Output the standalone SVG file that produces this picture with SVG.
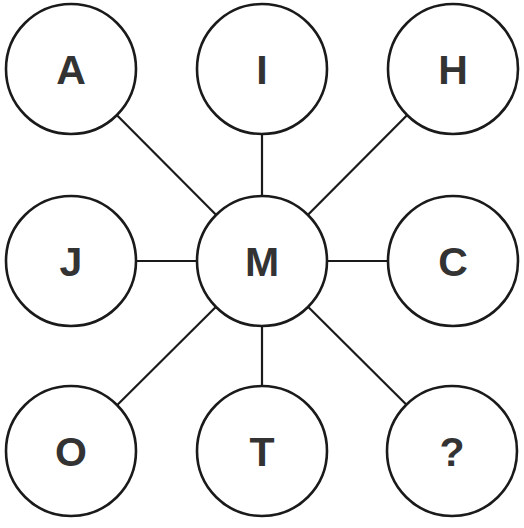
<svg xmlns="http://www.w3.org/2000/svg" width="524" height="528" viewBox="0 0 524 528">
<style>
.n circle{fill:#fff;stroke:#1a1a1a;stroke-width:2.6}
.n text{font-family:"Liberation Sans",Arial,sans-serif;font-weight:bold;font-size:41px;fill:#333;text-anchor:middle}
#edges line{stroke:#1a1a1a;stroke-width:2.2}
</style>
<rect width="524" height="528" fill="#fff"/>
<g id="edges">
<line x1="262" y1="261" x2="71" y2="69"/>
<line x1="262" y1="261" x2="262" y2="69"/>
<line x1="262" y1="261" x2="453" y2="69"/>
<line x1="262" y1="261" x2="71" y2="261"/>
<line x1="262" y1="261" x2="453" y2="261"/>
<line x1="262" y1="261" x2="71" y2="451"/>
<line x1="262" y1="261" x2="262" y2="451"/>
<line x1="262" y1="261" x2="453" y2="451"/>
</g>
<g id="nA" class="n"><circle cx="71" cy="69" r="65"/><text x="71" y="84">A</text></g>
<g id="nI" class="n"><circle cx="262" cy="69" r="65"/><text x="262" y="84">I</text></g>
<g id="nH" class="n"><circle cx="453" cy="69" r="65"/><text x="453" y="84">H</text></g>
<g id="nJ" class="n"><circle cx="71" cy="261" r="65"/><text x="71" y="276">J</text></g>
<g id="nM" class="n"><circle cx="262" cy="261" r="65"/><text x="262" y="276">M</text></g>
<g id="nC" class="n"><circle cx="453" cy="261" r="65"/><text x="453" y="276">C</text></g>
<g id="nO" class="n"><circle cx="71" cy="451" r="65"/><text x="71" y="466">O</text></g>
<g id="nT" class="n"><circle cx="262" cy="451" r="65"/><text x="262" y="466">T</text></g>
<g id="nQ" class="n"><circle cx="452" cy="451" r="65"/><text x="452" y="466">?</text></g>
</svg>
